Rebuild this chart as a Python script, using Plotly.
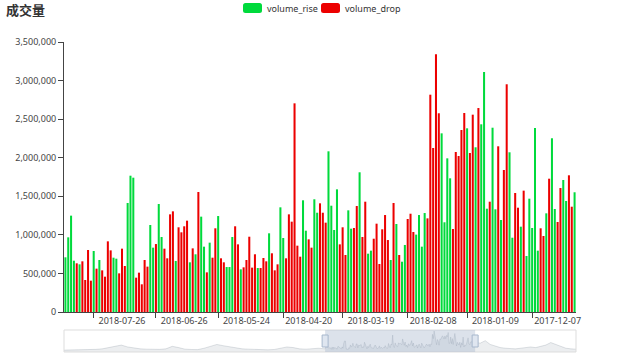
import pandas as pd
import plotly.graph_objects as go

# ---------------- data ----------------
holidays = ["2018-01-01", "2018-02-15", "2018-02-16", "2018-02-19", "2018-02-20",
            "2018-02-21", "2018-04-05", "2018-04-06", "2018-04-30", "2018-05-01",
            "2018-06-18"]
days = pd.bdate_range("2017-11-29", "2018-08-23")
dates = [d.strftime("%Y-%m-%d") for d in days if d.strftime("%Y-%m-%d") not in holidays][::-1]

volumes = [
    709, 968, 1249, 665, 631, 618, 657, 415, 804, 406,
    791, 562, 674, 540, 458, 916, 799, 704, 691, 501,
    821, 596, 1413, 1767, 1741, 445, 510, 359, 674, 588,
    1128, 834, 881, 1400, 972, 821, 696, 1266, 1305, 661,
    1098, 1033, 1111, 1184, 644, 825, 748, 1556, 1236, 847,
    514, 899, 704, 1085, 1244, 696, 644, 583, 583, 972,
    1111, 877, 553, 579, 674, 976, 575, 748, 570, 570,
    700, 657, 1020, 761, 540, 618, 1357, 959, 696, 1266,
    1171, 2705, 860, 717, 1448, 1054, 942, 834, 1461, 1287,
    1409, 1287, 1158, 2083, 1378, 1063, 1590, 877, 1098, 739,
    1318, 1080, 1089, 1374, 1811, 972, 1430, 756, 795, 950,
    1145, 622, 1072, 1257, 933, 674, 1413, 1141, 739, 652,
    869, 1206, 1274, 1037, 1003, 1257, 847, 1283, 1214, 2817,
    2126, 3341, 2576, 2316, 1163, 1992, 1733, 1076, 2074, 2022,
    2359, 2580, 2381, 2061, 2558, 2135, 2644, 2433, 3111, 1339,
    1430, 2389, 1331, 2148, 1193, 1841, 2952, 2070, 963, 1543,
    1352, 1106, 1573, 726, 1469, 1089, 2385, 795, 1085, 985,
    1279, 1728, 2252, 1335, 1167, 1607, 1711, 1439, 1772, 1365,
    1552]
volumes = [v * 1000 for v in volumes]

# g = rise, r = drop
direction = list(
    "ggggrgrrrr" "grgrrrrggr" "rrgggrrrrr" "ggrggrrrrg" "rrrrgrgrgg"
    "rgrrgrrggg" "rrgrrrrrgr" "rrgrrrggrr" "rrrrggrrgg" "rrrggggrrr"
    "ggrrgrrggr" "rrrrrgrgrg" "grrrggggrr" "rrrggggrrr" "rrgrrgrggg"
    "rggrgrrggr" "rgrgggggrr" "grggrrggrrg")

label_dates = ["2018-07-26", "2018-06-26", "2018-05-24", "2018-04-20",
               "2018-03-19", "2018-02-08", "2018-01-09", "2017-12-07"]
tick_dates = ["2018-08-09", "2018-07-10", "2018-06-07", "2018-05-07",
              "2018-04-02", "2018-02-28", "2018-01-23", "2017-12-20"]
y_ticks = [0, 500000, 1000000, 1500000, 2000000, 2500000, 3000000, 3500000]

# data-zoom overview (shadow of the full series, thousands), rough readings
shadow_left = [300, 320, 350, 300, 380, 420, 500, 700, 900, 1100, 800, 600, 500, 450, 400,
               420, 500, 900, 700, 450, 400, 380, 600, 900, 1200, 1000, 800, 600, 500, 450,
               400, 380, 350, 400, 600, 800, 700, 500, 450, 500, 600, 500]
shadow_right = [1400, 1800, 1200, 900, 700, 600, 550, 500, 600, 700, 800, 700, 900, 1100,
                1500, 1200, 800, 600, 500, 450]
window = (0.51, 0.803)

rise = [v if d == "g" else None for v, d in zip(volumes, direction)]
drop = [v if d == "r" else None for v, d in zip(volumes, direction)]

GREEN = "#00da3c"
RED = "#ec0000"
FONT = "Noto Sans, Noto Sans CJK SC, sans-serif"

# ---------------- figure ----------------
W, H = 640, 356
L, R, T, B = 64, 64, 42, 4
PW, PH = W - L - R, H - T - B


def fx(x):
    return (x - L) / PW


def fy(y):
    return (H - B - y) / PH


fig = go.Figure()
fig.add_trace(go.Bar(x=dates, y=rise, name="volume_rise", marker_color=GREEN,
                     marker_line_width=0, showlegend=False))
fig.add_trace(go.Bar(x=dates, y=drop, name="volume_drop", marker_color=RED,
                     marker_line_width=0, showlegend=False))

# overview shadow
nl, nr = len(shadow_left), len(shadow_right)
sx = [window[0] * i / (nl - 1) for i in range(nl)]
sv = [v * 1000 for v in shadow_left]
n = len(volumes)
sx += [window[0] + (window[1] - window[0]) * (i + 0.5) / n for i in range(n)]
sv += volumes
sx += [window[1] + (1 - window[1]) * (i + 1) / nr for i in range(nr)]
sv += [v * 1000 for v in shadow_right]
fig.add_trace(go.Scatter(x=sx, y=sv, xaxis="x2", yaxis="y2", mode="lines",
                         line=dict(color="rgba(47,69,84,0.3)", width=0.5),
                         fill="tozeroy", fillcolor="rgba(47,69,84,0.09)",
                         hoverinfo="skip", showlegend=False))

main_bottom = fy(312)
fig.update_layout(
    template="none",
    width=W, height=H, autosize=False,
    margin=dict(l=L, r=R, t=T, b=B, pad=0, autoexpand=False),
    paper_bgcolor="white", plot_bgcolor="white",
    barmode="relative", bargap=0.28,
    showlegend=False,
    font=dict(family=FONT, size=9, color="#333"),
    xaxis=dict(type="category", categoryorder="array", categoryarray=dates,
               range=[-0.5, len(dates) - 0.5], automargin=False,
               showline=True, linecolor="#444", linewidth=1,
               showgrid=False, zeroline=False,
               tickmode="array", tickvals=label_dates, ticktext=label_dates,
               ticks="", tickfont=dict(size=9, color="#444"),
               minor=dict(tickmode="array", tickvals=tick_dates, ticks="outside",
                          ticklen=5, tickcolor="#444", tickwidth=1, showgrid=False),
               anchor="y", fixedrange=True),
    yaxis=dict(domain=[main_bottom, 1], range=[0, 3500000], automargin=False,
               tickmode="array", tickvals=y_ticks,
               ticktext=[f"{v:,}" for v in y_ticks],
               showline=True, linecolor="#444", linewidth=1,
               ticks="outside", ticklen=5, tickcolor="#444",
               showgrid=False, zeroline=False, fixedrange=True,
               tickfont=dict(size=9, color="#444"), anchor="x"),
    xaxis2=dict(domain=[0, 1], range=[0, 1], visible=False, anchor="y2",
                automargin=False, fixedrange=True),
    yaxis2=dict(domain=[0, fy(330)], range=[0, 3500000], visible=False, anchor="x2",
                automargin=False, fixedrange=True),
)

shapes = []
# slider frame and window
shapes.append(dict(type="rect", xref="paper", yref="paper", x0=0, x1=1,
                   y0=0, y1=fy(330), line=dict(color="#dddddd", width=1),
                   fillcolor="rgba(0,0,0,0)", layer="above"))
shapes.append(dict(type="rect", xref="x2", yref="paper", x0=window[0], x1=window[1],
                   y0=0, y1=fy(330), line=dict(width=0),
                   fillcolor="rgba(167,183,204,0.4)", layer="above"))
for wx in window:
    shapes.append(dict(type="rect", xref="x2", yref="paper",
                       x0=wx - 3 / PW, x1=wx + 3 / PW, y0=fy(347), y1=fy(335),
                       line=dict(color="#a7b7cc", width=1), fillcolor="#dfe6f0",
                       layer="above"))


def rounded(x0, y0, x1, y1, r=2.5):
    X0, X1, Y0, Y1 = fx(x0), fx(x1), fy(y1), fy(y0)
    rx, ry = r / PW, r / PH
    return (f"M{X0 + rx},{Y0} L{X1 - rx},{Y0} Q{X1},{Y0} {X1},{Y0 + ry} "
            f"L{X1},{Y1 - ry} Q{X1},{Y1} {X1 - rx},{Y1} L{X0 + rx},{Y1} "
            f"Q{X0},{Y1} {X0},{Y1 - ry} L{X0},{Y0 + ry} Q{X0},{Y0} {X0 + rx},{Y0} Z")


legend_items = [("volume_rise", GREEN, 243), ("volume_drop", RED, 321)]
annotations = []
for name, col, x0 in legend_items:
    shapes.append(dict(type="path", xref="paper", yref="paper",
                       path=rounded(x0, 3, x0 + 19, 13), fillcolor=col,
                       line=dict(width=0)))
    annotations.append(dict(text=name, xref="paper", yref="paper", x=fx(x0 + 22),
                            y=fy(8), xanchor="left", yanchor="middle",
                            showarrow=False, font=dict(size=9, color="#333")))

annotations.append(dict(text="<b>成交量</b>", xref="paper", yref="paper",
                        x=fx(4), y=fy(10), xanchor="left", yanchor="middle",
                        showarrow=False,
                        font=dict(family="Noto Sans CJK SC", size=13, color="#333")))

fig.update_layout(shapes=shapes, annotations=annotations)
fig.write_html("out.html", config={"displayModeBar": False},
               post_script="document.body.style.margin='0';document.body.style.overflow='hidden';")
